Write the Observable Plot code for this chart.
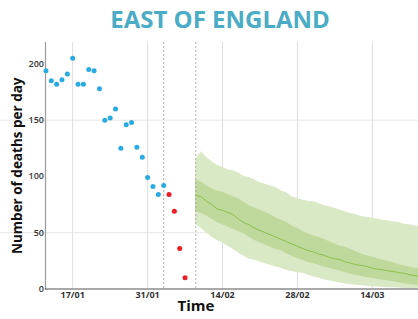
<!DOCTYPE html>
<html>
<head>
<meta charset="utf-8">
<script src="https://cdn.jsdelivr.net/npm/d3@7"></script>
<script src="https://cdn.jsdelivr.net/npm/@observablehq/plot@0.6"></script>
<style>
  html, body { margin: 0; padding: 0; background: #fff; }
  #wrap { width: 418px; height: 319px; position: relative; overflow: hidden; }
  #title { position: absolute; left: 0; top: 0; width: 440px; height: 40px; text-align: center;
    font-family: "Open Sans", sans-serif; font-weight: 700; font-size: 24px; color: #4bacc6;
    line-height: 38px; }
  #chart { position: absolute; left: 0; top: 40px; }
</style>
</head>
<body>
<div id="wrap">
  <div id="title">EAST OF ENGLAND</div>
  <div id="chart"></div>
</div>
<script>
// ---- Data ----
const titleText = "EAST OF ENGLAND";
const yLabel = "Number of deaths per day";
const xLabel = "Time";

// Observed daily deaths (blue), starting 12/01
const observedStart = "2021-01-12";
const observedValues = [194, 185, 182, 186, 191, 205, 182, 182, 195, 194, 178, 150, 152, 160, 125, 146, 148, 126, 117, 99, 91, 84, 92];

// Recent (incomplete) daily deaths (red), starting 04/02
const recentStart = "2021-02-04";
const recentValues = [84, 69, 36, 10];

// Forecast, starting 09/02
const forecastStart = "2021-02-09";
const forecastMedian = [83, 82, 78, 75, 71, 70, 68, 66, 62, 59, 57, 54, 52, 50, 48, 46, 44, 42, 40, 38,
  36, 34, 33, 31, 30, 28, 27, 26, 24, 23, 21.5, 21, 20, 18.5, 17.5, 17, 16, 15.5, 14.5, 14, 12.5, 12, 11];
const forecastHi50 = [97, 95, 92, 89, 87, 86, 84, 82, 80, 77, 74, 72, 70, 68, 66, 63, 61, 59, 56, 54,
  51, 49, 47, 46, 44, 42, 40, 38, 37, 35, 33, 31, 29.5, 28.5, 27, 25.5, 24.5, 23, 21.5, 20.5, 19.5, 18.5, 18];
const forecastLo50 = [69, 67, 65, 62, 59, 57, 55, 53, 51, 49, 46, 43, 41, 39, 37, 35, 34, 31, 29, 27,
  25.5, 23.5, 22.5, 21, 19.5, 18.5, 17, 16, 14.5, 13, 12, 11, 10, 9.5, 8.5, 7.7, 7, 6.5, 5.6, 4.7, 4.1, 3.6, 3.3];
const forecastHi95 = [115, 122, 117, 113, 110, 108, 106, 105, 103, 100, 99, 97, 94.5, 93, 91.5, 90, 87, 85.5, 82, 80.5,
  79, 78, 77.5, 76, 74, 73, 71.5, 70, 68.5, 67, 66, 64.5, 63.5, 63, 62, 61, 60.5, 59.5, 59, 57.5, 57, 56, 55.5];
const forecastLo95 = [57.5, 54, 50, 46, 43, 41, 38, 35, 32, 29, 26.5, 25.5, 24, 22.5, 21, 19.5, 18.5, 16.5, 15.5, 14.5,
  14, 12.5, 10.7, 9.5, 8.3, 7, 6.2, 5.3, 4.5, 3.8, 3.3, 2.8, 2.4, 2.0, 1.7, 1.4, 1.2, 1.0, 0.8, 0.6, 0.5, 0.4, 0.3];

// Vertical dashed markers
const markerDates = ["2021-02-03", "2021-02-09"];
// X ticks
const xTickDates = ["2021-01-17", "2021-01-31", "2021-02-14", "2021-02-28", "2021-03-14"];
const yTicks = [0, 50, 100, 150, 200];
const yGrid = [50, 150];
const gridStart = "2021-01-03"; // horizontal gridlines run out to the image's left edge

// ---- Build tables ----
const parse = d3.utcParse("%Y-%m-%d");
const seq = (start, vals) => vals.map((v, i) => ({date: d3.utcDay.offset(parse(start), i), value: v}));
const observed = seq(observedStart, observedValues);
const recent = seq(recentStart, recentValues);
const forecast = forecastMedian.map((m, i) => ({
  date: d3.utcDay.offset(parse(forecastStart), i),
  median: m, hi50: forecastHi50[i], lo50: forecastLo50[i], hi95: forecastHi95[i], lo95: forecastLo95[i]
}));
const markers = markerDates.map(parse);
const xTicks = xTickDates.map(parse);

const xDomain = [new Date(Date.UTC(2021, 0, 11, 22)), new Date(Date.UTC(2021, 2, 22, 15))];

const plot = Plot.plot({
  width: 418,
  height: 279,
  marginTop: 2,
  marginLeft: 45,
  marginRight: 0,
  marginBottom: 30.5,
  style: {fontFamily: "Open Sans, sans-serif", fontSize: "9px", background: "white", overflow: "visible"},
  x: {type: "utc", domain: xDomain, label: null},
  y: {domain: [0, 219], label: null},
  marks: [
    Plot.ruleY(yGrid, {x1: parse(gridStart), x2: xDomain[1], stroke: "#e6e6e6", strokeWidth: 1}),
    Plot.ruleX(xTicks, {stroke: "#dedede", strokeWidth: 1}),
    Plot.areaY(forecast, {x: "date", y1: "lo95", y2: "hi95", fill: "#d9e8c5", clip: true}),
    Plot.areaY(forecast, {x: "date", y1: "lo50", y2: "hi50", fill: "#bfd99d", clip: true}),
    Plot.lineY(forecast, {x: "date", y: "median", stroke: "#8dbf4c", strokeWidth: 1, clip: true}),
    Plot.ruleX(markers, {stroke: "#9a9a9a", strokeWidth: 0.8, strokeDasharray: "2,2"}),
    Plot.axisX({ticks: xTicks, tickFormat: d3.utcFormat("%d/%m"), tickSize: 0, tickPadding: 3,
      fontWeight: 700, fill: "#333", label: null}),
    Plot.axisY({ticks: yTicks, tickSize: 0, tickPadding: 1.5, fontWeight: 600, fill: "#333", label: null}),
    Plot.frame({anchor: "left", stroke: "#9a9a9a", strokeWidth: 1.2}),
    Plot.frame({anchor: "bottom", stroke: "#555", strokeWidth: 1.2}),
    Plot.dot(observed, {x: "date", y: "value", r: 2.5, fill: "#29abe2", stroke: null}),
    Plot.dot(recent, {x: "date", y: "value", r: 2.5, fill: "#ec1c24", stroke: null}),
    Plot.text([yLabel], {frameAnchor: "left", dx: -28, rotate: -90, fontSize: 13.5, fontWeight: 700,
      fill: "#111", textAnchor: "middle", lineAnchor: "middle"}),
    Plot.text([xLabel], {frameAnchor: "bottom", dx: -36, dy: 17.5, fontSize: 15, fontWeight: 700,
      fill: "#111", textAnchor: "middle", lineAnchor: "middle"})
  ]
});
document.getElementById("chart").appendChild(plot);
document.getElementById("title").textContent = titleText;
</script>
</body>
</html>
